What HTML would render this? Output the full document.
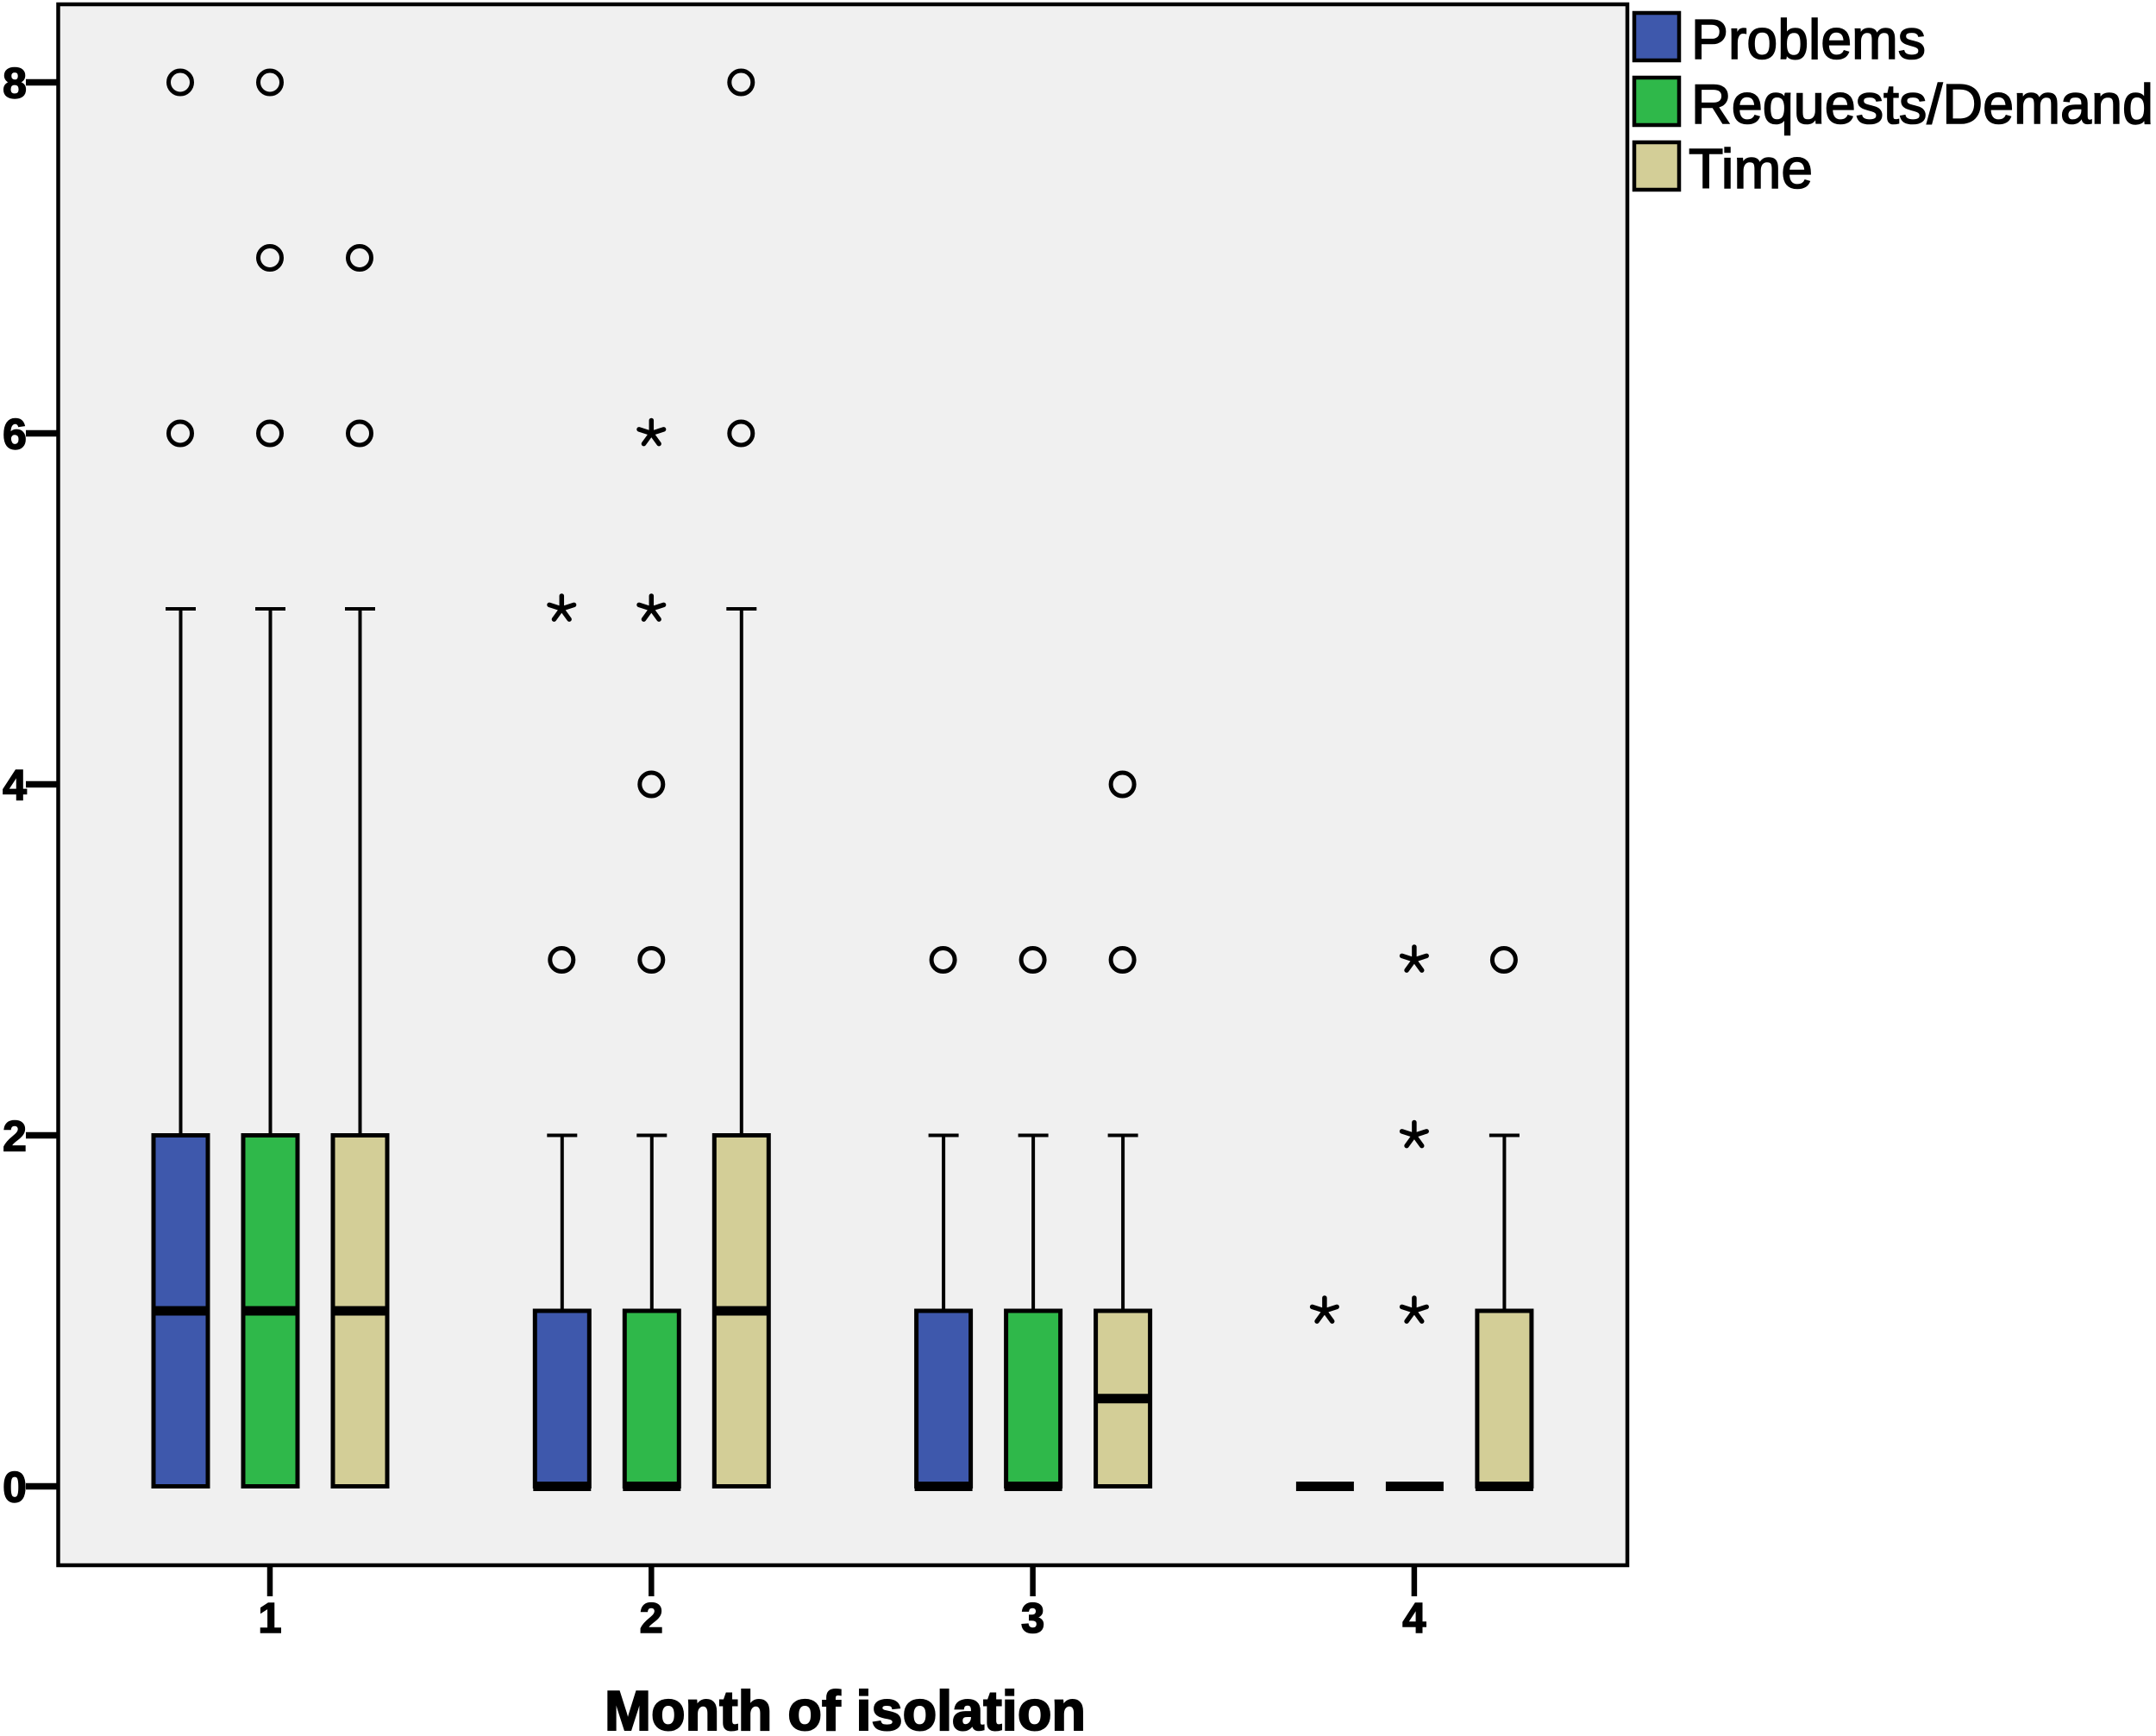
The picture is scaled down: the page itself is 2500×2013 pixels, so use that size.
<!DOCTYPE html>
<html lang="en">
<head>
<meta charset="utf-8">
<title>Month of isolation box plot</title>
<style>
html,body{margin:0;padding:0;background:#fff;width:2500px;height:2013px;overflow:hidden}
svg{display:block}
text{font-family:"Liberation Sans",Arial,sans-serif;fill:#000}
</style>
</head>
<body>
<svg id="chart" xmlns="http://www.w3.org/2000/svg" width="2500" height="2013" viewBox="0 0 2500 2013"></svg>
<script>
const categories = [1, 2, 3, 4];
const yTickLabels = [0, 2, 4, 6, 8];
const seriesNames = ['Problems', 'Requests/Demand', 'Time'];
const xAxisLabel = 'Month of isolation';

const problemsQ1 = [0, 0, 0, 0];
const problemsMedian = [1, 0, 0, 0];
const problemsQ3 = [2, 1, 1, 0];
const problemsWhiskerHigh = [5, 2, 2, 0];
const problemsOutliers = [[6, 8], [3], [3], []];
const problemsExtremes = [[], [5], [], [1]];

const requestsQ1 = [0, 0, 0, 0];
const requestsMedian = [1, 0, 0, 0];
const requestsQ3 = [2, 1, 1, 0];
const requestsWhiskerHigh = [5, 2, 2, 0];
const requestsOutliers = [[6, 7, 8], [3, 4], [3], []];
const requestsExtremes = [[], [5, 6], [], [1, 2, 3]];

const timeQ1 = [0, 0, 0, 0];
const timeMedian = [1, 1, 0.5, 0];
const timeQ3 = [2, 2, 1, 1];
const timeWhiskerHigh = [5, 5, 2, 2];
const timeOutliers = [[6, 7], [6, 8], [3, 4], [3]];
const timeExtremes = [[], [], [], []];

const svg = document.getElementById('chart');
const NS = 'http://www.w3.org/2000/svg';
const yPos = v => 1723.5 - v * 203.5;
const xPos = (catIndex, seriesIndex) => 313 + catIndex * 442.3 + (seriesIndex - 1) * 104;
const colors = ['#3e58ac', '#2fb84a', '#d3ce97'];
const keys = ['problems', 'requests', 'time'];

function make(tag, attrs, parent) {
  const el = document.createElementNS(NS, tag);
  for (const k in attrs) el.setAttribute(k, attrs[k]);
  (parent || svg).appendChild(el);
  return el;
}

const plot = make('rect', {x: 67.5, y: 5, width: 1819.5, height: 1810, fill: '#f0f0f0', stroke: '#000', 'stroke-width': 4.5});



yTickLabels.forEach(v => {
  const tick = make('line', {x1: 30, x2: 66, y1: yPos(v), y2: yPos(v), stroke: '#000', 'stroke-width': 7.5});
  
  
  const label = make('text', {x: 17, y: yPos(v) + 18, 'text-anchor': 'middle', 'font-size': 50, 'font-weight': 700, stroke: '#000', 'stroke-width': 1.5});
  label.textContent = v;
  
  
});

categories.forEach((c, i) => {
  const x = xPos(i, 1);
  const tick = make('line', {x1: x, x2: x, y1: 1815, y2: 1851, stroke: '#000', 'stroke-width': 6.5});
  
  
  const label = make('text', {x: x, y: 1893, 'text-anchor': 'middle', 'font-size': 49, 'font-weight': 700, stroke: '#000', 'stroke-width': 1.5});
  label.textContent = c;
  
  
});

const seriesData = [
  {q1: problemsQ1, med: problemsMedian, q3: problemsQ3, hi: problemsWhiskerHigh, out: problemsOutliers, ext: problemsExtremes},
  {q1: requestsQ1, med: requestsMedian, q3: requestsQ3, hi: requestsWhiskerHigh, out: requestsOutliers, ext: requestsExtremes},
  {q1: timeQ1, med: timeMedian, q3: timeQ3, hi: timeWhiskerHigh, out: timeOutliers, ext: timeExtremes}
];

function drawStar(x, y, parent) {
  let d = '';
  for (let a = 0; a < 5; a++) {
    const ang = -Math.PI / 2 + a * 2 * Math.PI / 5;
    d += 'M' + x + ' ' + y + 'L' + (x + 15 * Math.cos(ang)) + ' ' + (y + 15 * Math.sin(ang));
  }
  const star = make('path', {d: d, stroke: '#000', 'stroke-width': 5.5, fill: 'none', 'stroke-linecap': 'round'}, parent);
  
  
}

seriesData.forEach((s, si) => {
  categories.forEach((c, ci) => {
    const x = xPos(ci, si);
    const g = make('g', {});
    
    
    if (s.hi[ci] > s.q3[ci]) {
      const whisker = make('line', {x1: x + 0.5, x2: x + 0.5, y1: yPos(s.q3[ci]), y2: yPos(s.hi[ci]), stroke: '#000', 'stroke-width': 4}, g);
      
      
      const cap = make('line', {x1: x - 17, x2: x + 18, y1: yPos(s.hi[ci]), y2: yPos(s.hi[ci]), stroke: '#000', 'stroke-width': 4}, g);
      
      
    }
    if (s.q3[ci] > s.q1[ci]) {
      const box = make('rect', {x: x - 31, y: yPos(s.q3[ci]), width: 63, height: yPos(s.q1[ci]) - yPos(s.q3[ci]), fill: colors[si], stroke: '#000', 'stroke-width': 5}, g);
      
      
    }
    const median = make('line', {x1: x - 33, x2: x + 34, y1: yPos(s.med[ci]), y2: yPos(s.med[ci]), stroke: '#000', 'stroke-width': 11}, g);
    
    
    s.out[ci].forEach(v => {
      const dot = make('circle', {cx: x, cy: yPos(v), r: 13.5, fill: 'none', stroke: '#000', 'stroke-width': 5}, g);
      
      
    });
    s.ext[ci].forEach(v => drawStar(x, yPos(v), g));
  });
});

const legendWidths = [272, 536, 144];
seriesNames.forEach((n, i) => {
  const y = 15 + i * 75;
  const swatch = make('rect', {x: 1895, y: y, width: 52, height: 55, fill: colors[i], stroke: '#000', 'stroke-width': 4.5});
  
  
  const label = make('text', {x: i === 2 ? 1958 : 1961, y: y + 53, 'font-size': 65, textLength: legendWidths[i], lengthAdjust: 'spacingAndGlyphs', stroke: '#000', 'stroke-width': 1.6});
  label.textContent = n;
  
  
});

const title = make('text', {x: 701, y: 2006, 'font-size': 65, 'font-weight': 700, textLength: 558, lengthAdjust: 'spacingAndGlyphs', stroke: '#000', 'stroke-width': 2});
title.textContent = xAxisLabel;


</script>
</body>
</html>
